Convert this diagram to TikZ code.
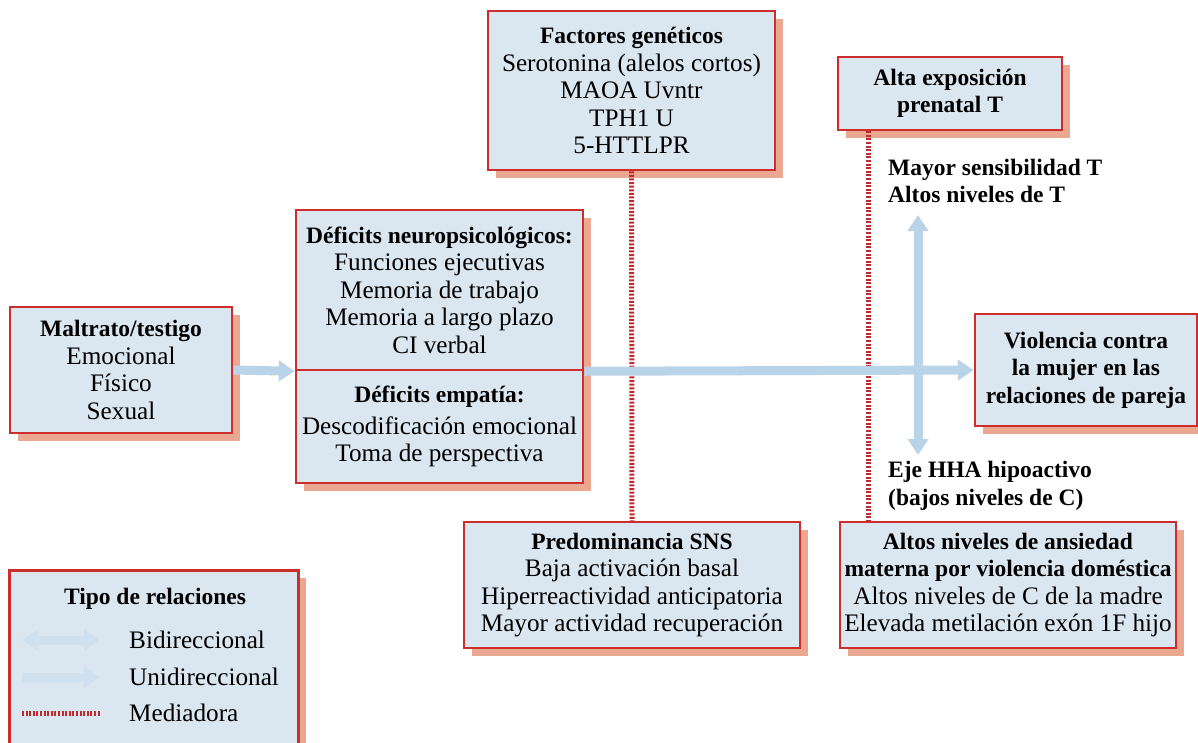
\documentclass[tikz,border=0pt]{standalone}
\usepackage{fontspec}
\setmainfont{Liberation Serif}
\usetikzlibrary{arrows.meta,shadows,calc}
\definecolor{bred}{HTML}{CC2E2E}
\definecolor{bfill}{HTML}{DAE6F0}
\definecolor{shad}{HTML}{EBA890}
\definecolor{ablue}{HTML}{B9D3E8}
\definecolor{lblue}{HTML}{CFE0EE}
\definecolor{dred}{HTML}{C0282C}
\newcommand{\bt}[1]{{\fontsize{23.5}{27.5}\selectfont\bfseries #1}}
\begin{document}
\begin{tikzpicture}[x=1pt,y=-1pt,
  box/.style={draw=bred, line width=2.5pt, fill=bfill, align=center, inner sep=0pt,
    drop shadow={shadow xshift=8pt, shadow yshift=-8pt, fill=shad, opacity=1},
    font=\fontsize{25.2}{27.5}\selectfont},
  lbl/.style={align=left, inner sep=0pt, anchor=west, font=\fontsize{23.5}{27.5}\selectfont\bfseries},
  legtxt/.style={inner sep=0pt, anchor=west, font=\fontsize{25.2}{27.5}\selectfont},
  uni/.style={draw=ablue, line width=9pt, -{Triangle[width=20pt,length=16pt]}},
  bi/.style={draw=ablue, line width=9pt, {Triangle[width=20pt,length=16pt]}-{Triangle[width=20pt,length=16pt]}},
  med/.style={draw=dred, line width=5pt, dash pattern=on 2pt off 1.6pt}]
\clip (0,0) rectangle (1198,742);
\fill[white] (0,0) rectangle (1198,742);

% boxes
\node[box, minimum width=222pt, minimum height=126pt] (mal) at (121,370)
  {\bt{Maltrato/testigo}\\Emocional\\Físico\\Sexual};
\node[box, minimum width=287pt, minimum height=160pt] (defA) at (439.5,290)
  {\bt{Déficits neuropsicológicos:}\\Funciones ejecutivas\\Memoria de trabajo\\Memoria a largo plazo\\CI verbal};
\node[box, minimum width=287pt, minimum height=113pt] (defB) at (439.5,426.5)
  {\bt{Déficits empatía:}\\[4pt]Descodificación emocional\\Toma de perspectiva};
\node[box, minimum width=287pt, minimum height=159pt] (gen) at (631.5,90.5)
  {\bt{Factores genéticos}\\Serotonina (alelos cortos)\\MAOA Uvntr\\TPH1 U\\5-HTTLPR};
\node[box, minimum width=224pt, minimum height=73pt] (alta) at (950,93.5)
  {\bt{Alta exposición}\\\bt{prenatal T}};
\node[box, minimum width=222pt, minimum height=112pt] (viol) at (1086,370)
  {\bt{Violencia contra}\\\bt{la mujer en las}\\\bt{relaciones de pareja}};
\node[box, minimum width=336pt, minimum height=126pt] (sns) at (632,585)
  {\bt{Predominancia SNS}\\Baja activación basal\\Hiperreactividad anticipatoria\\Mayor actividad recuperación};
\node[box, minimum width=336pt, minimum height=126pt] (ans) at (1008,585)
  {\bt{Altos niveles de ansiedad}\\\bt{materna por violencia doméstica}\\Altos niveles de C de la madre\\Elevada metilación exón 1F hijo};

% labels
\node[lbl] (sensT) at (888,181) {Mayor sensibilidad T\\Altos niveles de T};
\node[lbl] (eje) at (888,486) {Eje HHA hipoactivo\\(bajos niveles de C)};

% mediating lines
\coordinate (xr) at (868,0);
\draw[med] (gen.south) -- (sns.north);
\draw[med] (alta.south -| xr) -- (ans.north -| xr);

% arrows
\draw[uni] (mal.east) -- (defA.south west);
\draw[uni] (defA.south east) -- (viol.west);
\coordinate (btop) at (918,215);
\coordinate (bbot) at (918,455);
\draw[bi] (bbot) -- (btop);

% legend
\node[box, anchor=north west, minimum width=289pt, minimum height=200pt] (leg) at (8,569) {};
\node[inner sep=0pt] (legt) at (155,599) {\bt{Tipo de relaciones}};
\coordinate (l1a) at (22,640); \coordinate (l1b) at (100,640);
\coordinate (l2a) at (22,677); \coordinate (l2b) at (100,677);
\coordinate (l3a) at (22,713); \coordinate (l3b) at (100,713);
\draw[bi, draw=lblue] (l1a) -- (l1b);
\draw[uni, draw=lblue] (l2a) -- (l2b);
\draw[med] (l3a) -- (l3b);
\node[legtxt] (lb1) at (129,640) {Bidireccional};
\node[legtxt] (lb2) at (129,677) {Unidireccional};
\node[legtxt] (lb3) at (129,713) {Mediadora};
\end{tikzpicture}
\end{document}
